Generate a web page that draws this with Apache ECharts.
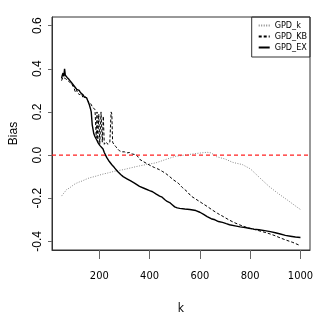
<!DOCTYPE html>
<html>
<head>
<meta charset="utf-8">
<script src="https://cdn.jsdelivr.net/npm/echarts@6/dist/echarts.min.js"></script>
<style>
  html, body { margin: 0; padding: 0; background: #fff; }
  #root { width: 320px; height: 327px; }
</style>
</head>
<body>
<div id="root"></div>
<script>
const container = document.getElementById('root');
const myChart = echarts.init(container);

const NARROW = "'DejaVu Sans Condensed', 'Liberation Sans', sans-serif";
const RED = '#ff2020';

const xMin = 12;
const xMax = 1038;
const xTicks = [200, 400, 600, 800, 1000];
const yTicks = [-0.4, -0.2, 0, 0.2, 0.4, 0.6];
const refLevel = 0;

// GPD_k (dotted grey)
const kK = [50, 60, 70, 81, 90, 100, 110, 120, 132, 145, 160, 183, 200, 215, 234, 260, 298, 330, 360, 387, 425, 463, 502, 552, 590, 629, 645, 667, 700, 731, 769, 801, 820, 846, 875, 909, 950, 992, 1000];
const vK = [-0.19, -0.175, -0.16, -0.153, -0.145, -0.136, -0.13, -0.125, -0.12, -0.113, -0.106, -0.099, -0.093, -0.088, -0.083, -0.075, -0.067, -0.058, -0.05, -0.044, -0.036, -0.021, -0.006, 0.002, 0.008, 0.013, 0.01, -0.008, -0.018, -0.034, -0.044, -0.064, -0.085, -0.114, -0.145, -0.176, -0.21, -0.246, -0.252];

// GPD_KB (dashed)
const kKB = [50, 55, 60, 65, 70, 80, 90, 100, 105, 110, 120, 130, 135, 145, 155, 165, 172, 178, 183, 186, 188, 191, 194, 198, 202, 207, 212, 216, 220, 226, 235, 242, 247, 250, 253, 258, 265, 272, 280, 290, 300, 310, 320, 330, 340, 350, 361, 375, 390, 405, 420, 438, 450, 464, 480, 495, 514, 530, 550, 565, 585, 605, 629, 650, 670, 693, 715, 735, 757, 780, 800, 820, 846, 870, 895, 922, 945, 970, 1000];
const vKB = [0.345, 0.36, 0.365, 0.355, 0.35, 0.34, 0.33, 0.31, 0.29, 0.3, 0.28, 0.285, 0.265, 0.27, 0.25, 0.24, 0.225, 0.22, 0.21, 0.215, 0.08, 0.2, 0.06, 0.19, 0.05, 0.2, 0.06, 0.18, 0.05, 0.06, 0.05, 0.06, 0.2, 0.19, 0.06, 0.05, 0.04, 0.03, 0.02, 0.015, 0.015, 0.01, 0.012, 0.005, 0.003, -0.002, -0.02, -0.03, -0.04, -0.05, -0.058, -0.067, -0.075, -0.085, -0.1, -0.115, -0.13, -0.15, -0.17, -0.19, -0.205, -0.22, -0.238, -0.255, -0.27, -0.285, -0.3, -0.312, -0.323, -0.333, -0.34, -0.346, -0.354, -0.362, -0.372, -0.385, -0.395, -0.405, -0.42];

// GPD_EX (solid)
const kEX = [50, 53, 56, 59, 62, 65, 68, 72, 76, 80, 85, 90, 95, 100, 105, 110, 115, 120, 125, 130, 135, 140, 145, 150, 155, 160, 165, 168, 170, 172, 175, 178, 183, 190, 196, 202, 208, 215, 220, 225, 230, 240, 250, 260, 272, 285, 295, 310, 325, 340, 360, 380, 400, 412, 425, 440, 450, 461, 470, 480, 490, 500, 510, 520, 540, 560, 584, 600, 615, 629, 645, 660, 674, 690, 705, 718, 740, 760, 780, 795, 815, 835, 858, 880, 900, 920, 940, 960, 980, 1000];
const vEX = [0.355, 0.37, 0.38, 0.365, 0.4, 0.37, 0.375, 0.36, 0.365, 0.35, 0.345, 0.335, 0.33, 0.32, 0.315, 0.305, 0.31, 0.3, 0.29, 0.285, 0.28, 0.27, 0.265, 0.265, 0.25, 0.235, 0.215, 0.2, 0.17, 0.14, 0.12, 0.1, 0.085, 0.07, 0.055, 0.045, 0.038, 0.028, 0.012, 0, -0.012, -0.03, -0.045, -0.058, -0.075, -0.09, -0.1, -0.11, -0.12, -0.13, -0.145, -0.155, -0.165, -0.17, -0.18, -0.19, -0.195, -0.207, -0.215, -0.22, -0.23, -0.24, -0.245, -0.247, -0.25, -0.252, -0.257, -0.265, -0.275, -0.285, -0.295, -0.3, -0.308, -0.312, -0.318, -0.323, -0.328, -0.333, -0.336, -0.339, -0.343, -0.346, -0.35, -0.355, -0.36, -0.366, -0.372, -0.376, -0.38, -0.382];

const pairs = (xs, ys) => xs.map((x, i) => [x, ys[i]]);

const option = {
  animation: false,
  textStyle: { fontFamily: 'Liberation Sans' },
  grid: {
    left: 42, right: 10, top: 17, bottom: 77,
    show: true, borderColor: '#333', borderWidth: 1
  },
  legend: {
    right: 10,
    top: 17,
    orient: 'vertical',
    padding: [4, 3, 5, 6],
    itemGap: 2,
    itemWidth: 11,
    itemHeight: 9,
    borderColor: '#333',
    borderWidth: 1,
    borderRadius: 0,
    itemStyle: { opacity: 0 },
    textStyle: { fontFamily: NARROW, fontSize: 9, color: '#000' },
    data: ['GPD_k', 'GPD_KB', 'GPD_EX']
  },
  xAxis: {
    type: 'value',
    min: xMin,
    max: xMax,
    name: 'k',
    nameLocation: 'middle',
    nameGap: 53,
    nameTextStyle: { fontFamily: NARROW, fontSize: 12, color: '#000' },
    axisLine: { show: true, onZero: false, lineStyle: { color: '#333' } },
    axisTick: { show: true, length: 9, customValues: xTicks, lineStyle: { color: '#666' } },
    axisLabel: {
      customValues: xTicks,
      margin: 21,
      fontFamily: NARROW,
      fontSize: 11,
      color: '#000',
      formatter: v => String(v)
    },
    splitLine: { show: false }
  },
  yAxis: {
    type: 'value',
    min: -0.44,
    max: 0.64,
    name: 'Bias',
    nameLocation: 'middle',
    nameRotate: 90,
    nameGap: 32,
    nameTextStyle: { fontSize: 12, color: '#000' },
    axisLine: { show: true, onZero: false, lineStyle: { color: '#333' } },
    axisTick: { show: true, length: 4, customValues: yTicks, lineStyle: { color: '#666' } },
    axisLabel: {
      customValues: yTicks,
      rotate: 90,
      margin: 8,
      fontSize: 12,
      color: '#000',
      formatter: v => v.toFixed(1)
    },
    splitLine: { show: false }
  },
  series: [
    {
      name: 'GPD_k',
      type: 'line',
      symbol: 'none',
      data: pairs(kK, vK),
      lineStyle: { color: '#888', width: 1, type: [1, 1.5] },
      itemStyle: { color: '#888' }
    },
    {
      name: 'GPD_KB',
      type: 'line',
      symbol: 'none',
      data: pairs(kKB, vKB),
      lineStyle: { color: '#000', width: 1, type: [3, 2] },
      itemStyle: { color: '#000' }
    },
    {
      name: 'GPD_EX',
      type: 'line',
      symbol: 'none',
      z: 3,
      data: pairs(kEX, vEX),
      lineStyle: { color: '#000', width: 1.4 },
      itemStyle: { color: '#000' }
    },
    {
      // horizontal reference at zero, across the whole axis range
      name: 'zero',
      type: 'line',
      symbol: 'none',
      z: 4,
      silent: true,
      data: [[xMin, refLevel], [xMax, refLevel]],
      lineStyle: { color: RED, width: 1.2, type: [4, 3] },
      itemStyle: { color: RED }
    }
  ]
};

myChart.setOption(option);

window.onresize = () => myChart.resize();
</script>
</body>
</html>
